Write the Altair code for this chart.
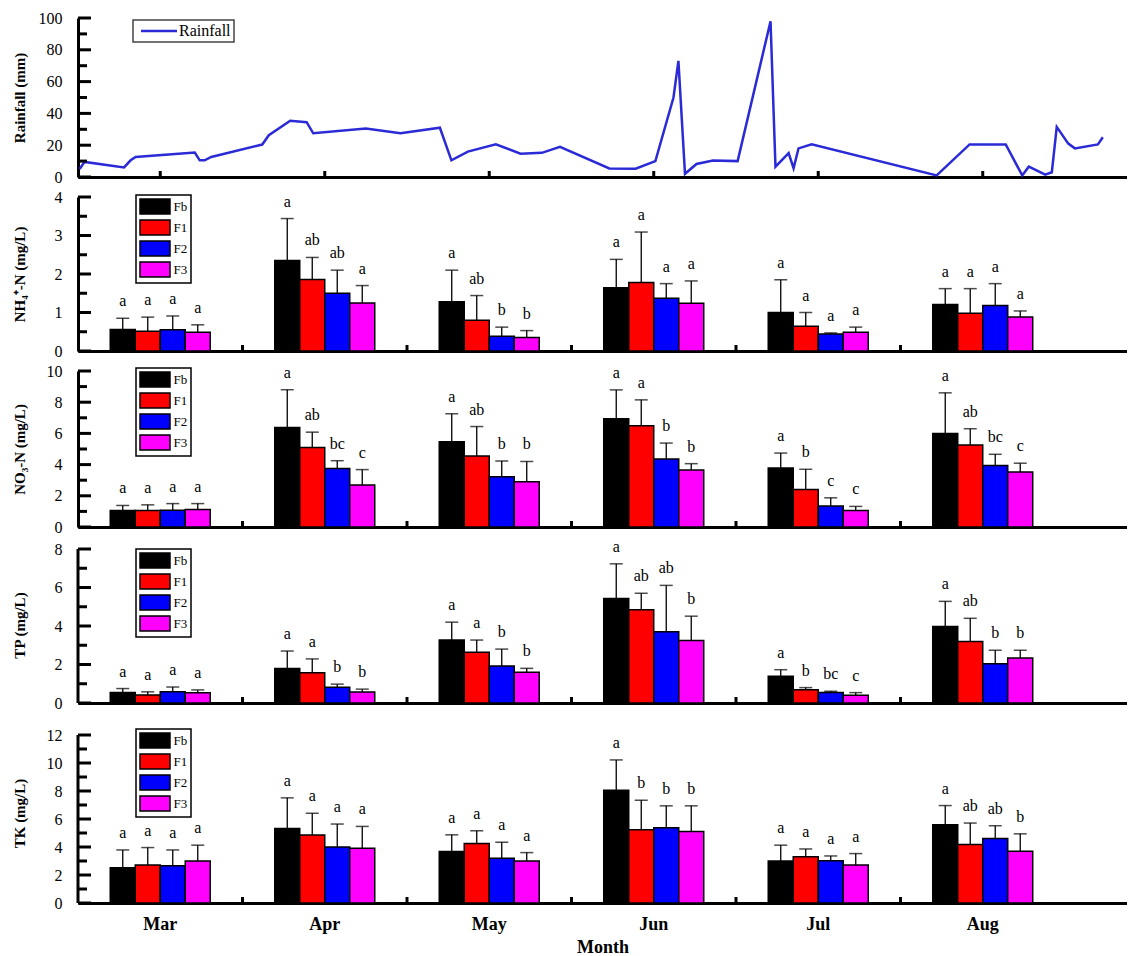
import altair as alt
import pandas as pd

FONT = "Liberation Serif"

months = ["Mar", "Apr", "May", "Jun", "Jul", "Aug"]
series = ["Fb", "F1", "F2", "F3"]
bar_colors = ["#000000", "#ff0000", "#0000ff", "#ff00ff"]

# Rainfall (position in month units, 1 = Mar ... 6 = Aug)
rain_pos = [0.51, 0.54, 0.78, 0.82, 0.85, 1.03, 1.21, 1.24, 1.27, 1.31,
            1.62, 1.66, 1.79, 1.89, 1.93, 2.25, 2.46, 2.70, 2.77, 2.87,
            3.04, 3.19, 3.32, 3.43, 3.73, 3.89, 4.01, 4.12, 4.15, 4.19,
            4.26, 4.36, 4.51, 4.71, 4.74, 4.82, 4.85, 4.88, 4.96, 5.72,
            5.92, 6.14, 6.24, 6.28, 6.38, 6.42, 6.45, 6.52, 6.56, 6.70, 6.73]
rain_mm = [5, 9.5, 6, 10.5, 12.6, 14, 15.4, 10.5, 10.5, 12.6,
           20.4, 26.3, 35.4, 34.5, 27.5, 30.5, 27.5, 31, 10.5, 16,
           20.5, 14.7, 15.2, 19, 5.4, 5.2, 10, 50, 73, 2,
           8.2, 10.4, 10, 98, 6.5, 15, 5.5, 18, 20.5, 1,
           20.5, 20.5, 1, 6.5, 1.5, 3, 31.5, 21, 18, 20.5, 25]

# NH4-N
nh4_mean = [[0.56, 0.51, 0.55, 0.49], [2.35, 1.86, 1.50, 1.25], [1.28, 0.80, 0.38, 0.35],
            [1.64, 1.78, 1.37, 1.24], [1.00, 0.64, 0.44, 0.49], [1.21, 0.98, 1.18, 0.88]]
nh4_sd = [[0.29, 0.37, 0.36, 0.19], [1.09, 0.57, 0.60, 0.45], [0.82, 0.64, 0.24, 0.18],
          [0.74, 1.31, 0.38, 0.58], [0.85, 0.36, 0.03, 0.13], [0.41, 0.64, 0.57, 0.16]]
nh4_let = ["a a a a", "a ab ab a", "a ab b b", "a a a a", "a a a a", "a a a a"]

# NO3-N
no3_mean = [[1.05, 1.05, 1.08, 1.12], [6.38, 5.09, 3.75, 2.69], [5.47, 4.55, 3.22, 2.90],
            [6.94, 6.49, 4.36, 3.66], [3.79, 2.40, 1.34, 1.06], [6.00, 5.26, 3.94, 3.53]]
no3_sd = [[0.33, 0.37, 0.42, 0.38], [2.42, 0.99, 0.50, 0.99], [1.79, 1.89, 1.01, 1.30],
          [1.85, 1.66, 1.02, 0.40], [0.95, 1.30, 0.53, 0.26], [2.60, 1.04, 0.72, 0.56]]
no3_let = ["a a a a", "a ab bc c", "a ab b b", "a a b b", "a b c c", "a ab bc c"]

# TP
tp_mean = [[0.55, 0.42, 0.58, 0.53], [1.79, 1.57, 0.82, 0.57], [3.27, 2.64, 1.92, 1.60],
           [5.43, 4.84, 3.70, 3.25], [1.39, 0.69, 0.54, 0.40], [3.97, 3.19, 2.04, 2.34]]
tp_sd = [[0.20, 0.16, 0.25, 0.15], [0.91, 0.72, 0.16, 0.15], [0.93, 0.63, 0.88, 0.20],
         [1.80, 0.86, 2.41, 1.26], [0.34, 0.11, 0.07, 0.14], [1.31, 1.21, 0.70, 0.40]]
tp_let = ["a a a a", "a a b b", "a a b b", "a ab ab b", "a b bc c", "a ab b b"]

# TK
tk_mean = [[2.52, 2.71, 2.66, 3.00], [5.33, 4.85, 4.00, 3.91], [3.67, 4.25, 3.19, 3.00],
           [8.06, 5.23, 5.38, 5.11], [3.00, 3.31, 3.02, 2.71], [5.59, 4.18, 4.61, 3.70]]
tk_sd = [[1.27, 1.25, 1.13, 1.13], [2.18, 1.56, 1.64, 1.56], [1.20, 0.91, 1.15, 0.60],
         [2.16, 2.11, 1.56, 1.83], [1.13, 0.55, 0.34, 0.82], [1.37, 1.53, 0.91, 1.24]]
tk_let = ["a a a a", "a a a a", "a a a a", "a b b b", "a a a a", "a ab ab b"]

W = 1049
X_END = 6.877
STEP = W / (X_END - 0.5)
TITLE_X = -51


def yaxis(title, values, domain=True):
    return alt.Axis(title=title, values=values, ticks=False, grid=False, domain=domain,
                    labelFont=FONT, labelFontSize=16, labelPadding=16, labelColor="black",
                    titleFont=FONT, titleFontSize=15, titleFontWeight="bold",
                    titleColor="black", titleX=TITLE_X, domainWidth=3, domainColor="black")


def ytick_layers(major, minor, yscale, yax):
    maj = alt.Chart(pd.DataFrame({"v": major})).mark_rule(color="black", strokeWidth=3).encode(
        x=alt.value(0), x2=alt.value(13), y=alt.Y("v:Q", scale=yscale, axis=yax))
    mnr = alt.Chart(pd.DataFrame({"v": minor})).mark_rule(color="black", strokeWidth=3).encode(
        x=alt.value(0), x2=alt.value(9), y=alt.Y("v:Q", scale=yscale, axis=yax))
    return [maj, mnr]


def bar_panel(mean, sd, letters, ymax, major, minor, title, height, legend_y,
              bottom=False, extra_top=0):
    rows = []
    for i, m in enumerate(months):
        lets = letters[i].split()
        for j, s in enumerate(series):
            rows.append(dict(month=m, series=s, value=mean[i][j],
                             top=mean[i][j] + sd[i][j], letter=lets[j]))
    df = pd.DataFrame(rows)
    total_h = height + extra_top
    xs = alt.Scale(domain=months, paddingInner=0, paddingOuter=(X_END - 6.5) / 2, align=0)
    os_ = alt.Scale(domain=series, paddingInner=0, paddingOuter=0,
                    range=[STEP / 2 - 50, STEP / 2 + 50])
    ys = alt.Scale(domain=[0, ymax * total_h / height], nice=False, zero=True)
    if bottom:
        xax = alt.Axis(title="Month", ticks=False, labelAngle=0, labelFont=FONT,
                       labelFontSize=18, labelFontWeight="bold", labelPadding=12,
                       labelColor="black", titleFont=FONT, titleFontSize=18,
                       titleFontWeight="bold", titleColor="black", titlePadding=5,
                       domainWidth=3, domainColor="black")
    else:
        xax = alt.Axis(title=None, labels=False, ticks=False, domainWidth=3, domainColor="black")
    yax = yaxis(title, major, domain=(extra_top == 0))
    X = alt.X("month:N", scale=xs, axis=xax)
    XO = alt.XOffset("series:N", scale=os_)
    base = alt.Chart(df)
    bars = base.mark_bar(stroke="black", strokeWidth=1.5).encode(
        x=X, xOffset=XO, y=alt.Y("value:Q", scale=ys, axis=yax),
        color=alt.Color("series:N", scale=alt.Scale(domain=series, range=bar_colors),
                        legend=alt.Legend(title=None, orient="none", legendX=58, legendY=legend_y,
                                          strokeColor="black", fillColor="white",
                                          padding=3, symbolType="M-2,-1H2V1H-2Z", symbolSize=225,
                                          symbolStrokeColor="black", symbolStrokeWidth=1.5,
                                          symbolOffset=7.5, labelOffset=10, labelFont=FONT,
                                          labelFontSize=13, labelColor="black", rowPadding=0)))
    err = base.mark_rule(color="black", strokeWidth=1.3).encode(
        x=X, xOffset=XO, y=alt.Y("value:Q", scale=ys, axis=yax), y2="top:Q")
    cap = base.mark_tick(color="black", thickness=1.5, size=13).encode(
        x=X, xOffset=XO, y=alt.Y("top:Q", scale=ys, axis=yax))
    txt = base.mark_text(font=FONT, fontSize=16, baseline="bottom", dy=-9, color="black").encode(
        x=X, xOffset=XO, y=alt.Y("top:Q", scale=ys, axis=yax), text="letter:N")
    xt = alt.Chart(pd.DataFrame({"m": months[1:]})).mark_rule(color="black", strokeWidth=3).encode(
        x=alt.X("m:N", scale=xs, axis=xax, bandPosition=0),
        y=alt.value(total_h), y2=alt.value(total_h - 6))
    layers = [bars, err, cap, txt, xt] + ytick_layers(major, minor, ys, yax)
    if extra_top:
        axis_line = alt.Chart(pd.DataFrame({"a": [0], "b": [ymax]})).mark_rule(
            color="black", strokeWidth=3).encode(
            x=alt.value(0), y=alt.Y("a:Q", scale=ys, axis=yax), y2="b:Q")
        layers.append(axis_line)
    return alt.layer(*layers).properties(width=W, height=total_h)


# Rainfall panel
rain_df = pd.DataFrame({"pos": rain_pos, "mm": rain_mm, "name": ["Rainfall"] * len(rain_pos)})
rxs = alt.Scale(domain=[0.5, X_END], nice=False, zero=False)
rys = alt.Scale(domain=[0, 100], nice=False)
rxax = alt.Axis(title=None, labels=False, ticks=False, grid=False, domainWidth=3, domainColor="black")
ryax = yaxis("Rainfall (mm)", [0, 20, 40, 60, 80, 100])
rain_line = alt.Chart(rain_df).mark_line(strokeWidth=2.5).encode(
    x=alt.X("pos:Q", scale=rxs, axis=rxax),
    y=alt.Y("mm:Q", scale=rys, axis=ryax),
    color=alt.Color("name:N", scale=alt.Scale(domain=["Rainfall"], range=["#2a2ad6"]),
                    legend=alt.Legend(title=None, orient="none", legendX=55, legendY=2,
                                      strokeColor="#444", fillColor="white",
                                      padding=3, symbolType="M-4,0H4", symbolSize=81,
                                      symbolStrokeWidth=2.5, symbolOffset=15,
                                      labelFont=FONT, labelFontSize=16,
                                      labelColor="black", labelOffset=12)))
rain_xt = alt.Chart(pd.DataFrame({"p": [1, 2, 3, 4, 5, 6]})).mark_rule(color="black", strokeWidth=3).encode(
    x=alt.X("p:Q", scale=rxs, axis=rxax), y=alt.value(159), y2=alt.value(153))
rain_panel = alt.layer(rain_line, rain_xt, *ytick_layers([0, 20, 40, 60, 80, 100],
                                                         [10, 30, 50, 70, 90], rys, ryax)
                       ).properties(width=W, height=159)

nh4 = bar_panel(nh4_mean, nh4_sd, nh4_let, 4, [0, 1, 2, 3, 4], [0.5, 1.5, 2.5, 3.5],
                "NH₄⁺-N (mg/L)", 154, -2)
no3 = bar_panel(no3_mean, no3_sd, no3_let, 10, [0, 2, 4, 6, 8, 10], [1, 3, 5, 7, 9],
                "NO₃-N (mg/L)", 156, -3)
tp = bar_panel(tp_mean, tp_sd, tp_let, 8, [0, 2, 4, 6, 8], [1, 3, 5, 7],
               "TP (mg/L)", 154, 2, extra_top=2)
tk = bar_panel(tk_mean, tk_sd, tk_let, 12, [0, 2, 4, 6, 8, 10, 12], [1, 3, 5, 7, 9, 11],
               "TK (mg/L)", 168, 6, bottom=True, extra_top=12)

chart = alt.vconcat(rain_panel, nh4, no3, tp, tk, spacing=20, bounds="flush").resolve_scale(
    x="independent", y="independent", color="independent").resolve_legend(color="independent")
chart = chart.properties(padding={"left": 4, "top": 2, "right": 0, "bottom": 0}).configure_view(
    stroke=None).configure_axis(grid=False).configure_legend(strokeWidth=1.5)

chart.save("out.html", embed_options={"renderer": "svg", "actions": False})
